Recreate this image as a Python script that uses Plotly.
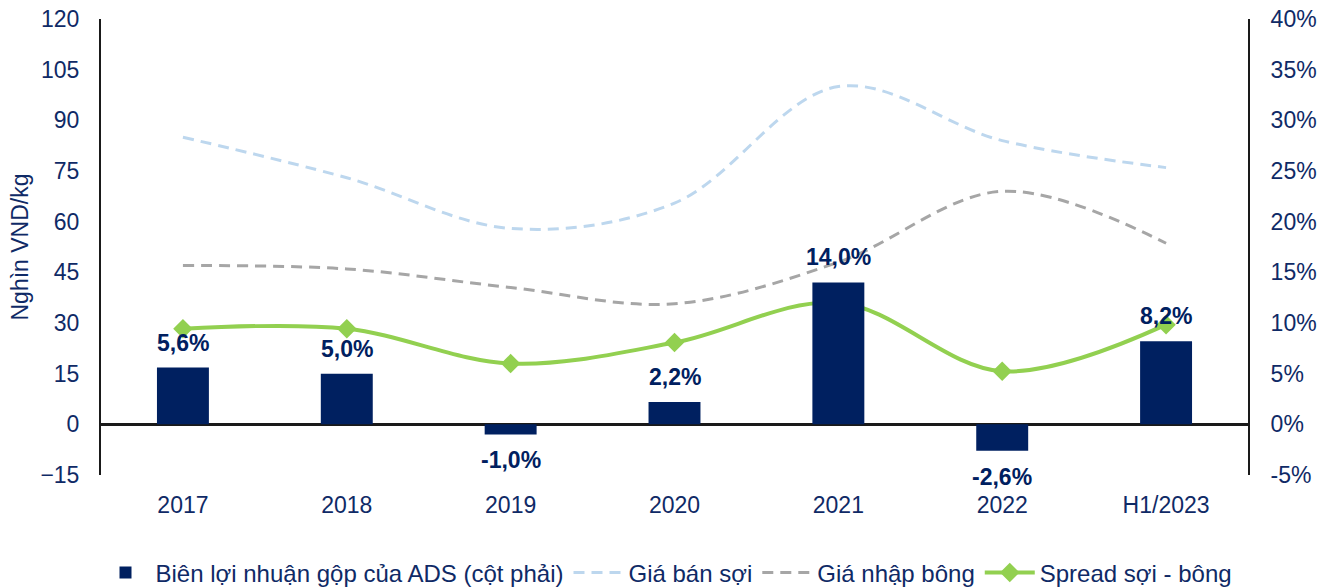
import plotly.graph_objects as go

categories = ["2017", "2018", "2019", "2020", "2021", "2022", "H1/2023"]
gross_margin = [0.056, 0.050, -0.010, 0.022, 0.140, -0.026, 0.082]
gross_margin_labels = ["5,6%", "5,0%", "-1,0%", "2,2%", "14,0%", "-2,6%", "8,2%"]
yarn_price = [85, 73, 58, 65.5, 100, 84, 76]
cotton_price = [47, 46, 40.5, 35.7, 48, 69, 53.6]
spread = [28.3, 28.3, 18, 24.2, 36, 15.7, 29.5]

left_ticks = [-15, 0, 15, 30, 45, 60, 75, 90, 105, 120]
right_ticks = [-0.05, 0, 0.05, 0.10, 0.15, 0.20, 0.25, 0.30, 0.35, 0.40]
right_tick_text = ["-5%", "0%", "5%", "10%", "15%", "20%", "25%", "30%", "35%", "40%"]

NAVY = "#002060"
TXT = "#0F2A66"
FONT = "Liberation Sans, Arial, sans-serif"
FS = 23

fig = go.Figure()
fig.add_trace(go.Bar(
    x=categories, y=gross_margin, yaxis="y2",
    name="Biên lợi nhuận gộp của ADS (cột phải)",
    marker=dict(color=NAVY, line=dict(width=0)),
))
fig.add_trace(go.Scatter(
    x=categories, y=yarn_price, name="Giá bán sợi", mode="lines",
    line=dict(color="#BDD7EE", width=3, dash="11px,7px", shape="spline", smoothing=1.0),
))
fig.add_trace(go.Scatter(
    x=categories, y=cotton_price, name="Giá nhập bông", mode="lines",
    line=dict(color="#A6A6A6", width=3, dash="11px,7px", shape="spline", smoothing=1.0),
))
fig.add_trace(go.Scatter(
    x=categories, y=spread, name="Spread sợi - bông", mode="lines+markers",
    line=dict(color="#92D050", width=4, shape="spline", smoothing=1.0),
    marker=dict(symbol="diamond", size=15, color="#92D050"),
))

for i, (v, t) in enumerate(zip(gross_margin, gross_margin_labels)):
    fig.add_annotation(
        x=i, y=v, xref="x", yref="y2", text=f"<b>{t}</b>", showarrow=False,
        yshift=25 if v >= 0 else -26, yanchor="middle",
        font=dict(family=FONT, size=FS, color=NAVY),
    )

fig.update_layout(
    width=1333, height=587,
    margin=dict(l=101, r=85, t=19, b=112, autoexpand=False),
    plot_bgcolor="white", paper_bgcolor="white",
    bargap=0.683,
    font=dict(family=FONT, size=FS, color=TXT),
    showlegend=True,
    legend=dict(orientation="h", xref="container", yref="container",
                x=0.5, xanchor="center", y=14 / 587, yanchor="middle",
                font=dict(family=FONT, size=24, color=TXT), traceorder="normal",
                itemwidth=50),
    xaxis=dict(type="category", showgrid=False, showline=False, ticks="",
               tickfont=dict(size=FS, color=TXT), range=[-0.5, 6.5],
               ticklabelstandoff=14),
    yaxis=dict(range=[-15, 120], tickvals=left_ticks, showgrid=False,
               showline=True, linecolor="#1a1a1a", linewidth=2,
               zeroline=True, zerolinecolor="#1a1a1a", zerolinewidth=2.5,
               ticks="", ticklabelstandoff=15,
               title=dict(text="Nghìn VND/kg", font=dict(size=FS, color=TXT), standoff=5),
               tickfont=dict(size=FS, color=TXT)),
    yaxis2=dict(range=[-0.05, 0.40], tickvals=right_ticks, ticktext=right_tick_text,
                overlaying="y", side="right", showgrid=False, zeroline=False,
                showline=True, linecolor="#1a1a1a", linewidth=2,
                ticks="", ticklabelstandoff=16, tickfont=dict(size=FS, color=TXT)),
)

fig.write_html(
    "out.html",
    config={"displayModeBar": False},
    post_script="document.body.style.margin='0';document.body.style.overflow='hidden';",
)
